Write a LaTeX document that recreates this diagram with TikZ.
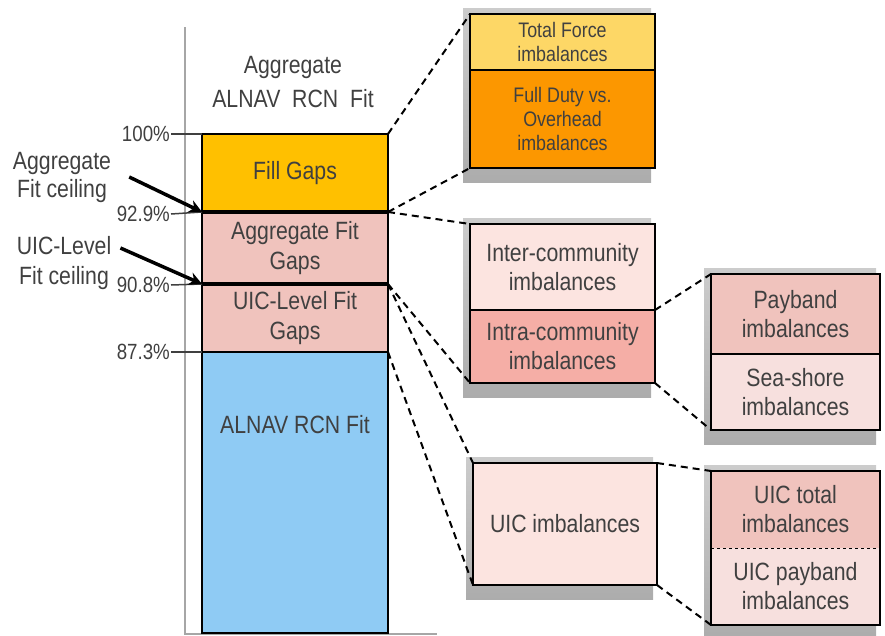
\documentclass[tikz,border=0pt]{standalone}
\usepackage{fontspec}
\setmainfont[FakeStretch=0.85]{Liberation Sans}
\usetikzlibrary{arrows.meta, positioning, backgrounds}

\definecolor{txtgray}{HTML}{404040}
\definecolor{gapgold}{HTML}{FFC000}
\definecolor{gappink}{HTML}{F0C3BD}
\definecolor{fitblue}{HTML}{8FCBF4}
\definecolor{tfyellow}{HTML}{FDD766}
\definecolor{fdorange}{HTML}{FC9700}
\definecolor{lightpink}{HTML}{FCE4E0}
\definecolor{intrapink}{HTML}{F5AEA6}
\definecolor{paleshore}{HTML}{F7E0DE}

\tikzstyle{barseg} = [rectangle, draw=black, line width=2.5pt, minimum width=186pt, outer sep=0pt, inner sep=0pt, anchor=north west, align=center, text=txtgray, font=\fontsize{25}{30}\selectfont]
\tikzstyle{imbox} = [rectangle, draw=black, line width=2.5pt, outer sep=0pt, inner sep=0pt, align=center, text=txtgray, font=\fontsize{25}{29}\selectfont]
\tikzstyle{smallbox} = [imbox, font=\fontsize{21}{24}\selectfont]
\tikzstyle{ticklabel} = [anchor=east, inner sep=1pt, text=txtgray, font=\fontsize{22}{24}\selectfont]
\tikzstyle{sidelabel} = [align=center, inner sep=2pt, text=txtgray, font=\fontsize{25}{28}\selectfont]
\tikzstyle{tick} = [line width=1.5pt, draw=black!75]
\tikzstyle{axisline} = [line width=1.5pt, draw=gray!70]
\tikzstyle{link} = [line width=2pt, dash pattern=on 7pt off 5pt]
\tikzstyle{arrow} = [line width=3.5pt, -{Stealth[length=13pt, width=13pt]}]
\tikzstyle{boxshadow} = [top color=gray!40, bottom color=gray!65]

\begin{document}
\begin{tikzpicture}[x=1pt, y=-1pt]
\useasboundingbox (0,0) rectangle (885,635);

% Axis and title
\draw [axisline] (185,27) -- (185,634) -- (437,634);
\node (title) [sidelabel, font=\fontsize{25}{34}\selectfont] at (293,82) {Aggregate\\ALNAV~~RCN~~Fit};

% Stacked bar
\node (FG) [barseg, minimum height=78pt, fill=gapgold] at (202,134) {Fill Gaps};
\node (AG) [barseg, minimum height=72pt, fill=gappink] at (202,212) {Aggregate Fit\\Gaps};
\node (UG) [barseg, minimum height=68pt, fill=gappink] at (202,284) {UIC-Level Fit\\Gaps};
\node (RF) [barseg, minimum height=281pt, fill=fitblue] at (202,352) {};
\node (RFt) [sidelabel] at (295,425) {ALNAV RCN Fit};
\draw [line width=4.5pt] (FG.south west) -- (FG.south east);
\draw [line width=4.5pt] (AG.south west) -- (AG.south east);

% Ticks
\node (t100) [ticklabel] at (171,134) {100\%};
\node (t929) [ticklabel] at (171,214) {92.9\%};
\node (t908) [ticklabel] at (171,285) {90.8\%};
\node (t873) [ticklabel] at (171,352) {87.3\%};
\draw [tick] (t100.east) -- (FG.north west);
\draw [tick] (t929.east) -- (AG.north west);
\draw [tick] (t908.east) -- (UG.north west);
\draw [tick] (t873.east) -- (RF.north west);

% Ceiling labels
\node (AC) [sidelabel] at (62,177) {Aggregate\\Fit ceiling};
\node (UL) [sidelabel, font=\fontsize{25}{30}\selectfont] at (64,263) {UIC-Level\\Fit ceiling};
\draw [arrow] ([xshift=16pt]AC.east) -- (FG.south west);
\draw [arrow] ([xshift=7pt, yshift=15pt]UL.east) -- (AG.south west);

% Imbalance boxes
\node (TF) [smallbox, anchor=north west, minimum width=185pt, minimum height=56pt, fill=tfyellow] at (470,14) {Total Force\\imbalances};
\node (FD) [smallbox, below=0pt of TF, minimum width=185pt, minimum height=98pt, fill=fdorange] {Full Duty vs.\\Overhead\\imbalances};

\node (IC) [imbox, anchor=north west, minimum width=185pt, minimum height=86pt, fill=lightpink] at (470,224) {Inter-community\\imbalances};
\node (RC) [imbox, below=0pt of IC, minimum width=185pt, minimum height=73pt, fill=intrapink] {Intra-community\\imbalances};

\node (PB) [imbox, anchor=north west, minimum width=169pt, minimum height=80pt, fill=gappink] at (711,274) {Payband\\imbalances};
\node (SS) [imbox, below=0pt of PB, minimum width=169pt, minimum height=76pt, fill=paleshore] {Sea-shore\\imbalances};

\node (UI) [imbox, anchor=north west, minimum width=184pt, minimum height=122pt, fill=lightpink] at (473,463) {UIC imbalances};

\node (UT) [imbox, draw=none, anchor=north west, minimum width=169pt, minimum height=77pt, fill=gappink] at (711,471) {UIC total\\imbalances};
\node (UP) [imbox, draw=none, below=0pt of UT, minimum width=169pt, minimum height=77pt, fill=paleshore] {UIC payband\\imbalances};
\draw [line width=2.5pt] (UT.north west) rectangle (UP.south east);
\draw [dashed, line width=1pt] (UT.south west) -- (UT.south east);

% Shadows
\begin{pgfonlayer}{background}
\shade [boxshadow] ([xshift=-7pt, yshift=6pt]TF.north west) rectangle ([xshift=-4pt, yshift=-14pt]FD.south east);
\shade [boxshadow] ([xshift=-7pt, yshift=6pt]IC.north west) rectangle ([xshift=-4pt, yshift=-14pt]RC.south east);
\shade [boxshadow] ([xshift=-7pt, yshift=6pt]PB.north west) rectangle ([xshift=-4pt, yshift=-14pt]SS.south east);
\shade [boxshadow] ([xshift=-7pt, yshift=6pt]UI.north west) rectangle ([xshift=-4pt, yshift=-14pt]UI.south east);
\shade [boxshadow] ([xshift=-7pt, yshift=6pt]UT.north west) rectangle ([xshift=-4pt, yshift=-14pt]UP.south east);
\end{pgfonlayer}

% Connecting lines
\draw [link] (FG.north east) -- (TF.north west);
\draw [link] (FG.south east) -- (FD.south west);
\draw [link] (FG.south east) -- (IC.north west);
\draw [link] (AG.south east) -- (RC.south west);
\draw [link] (AG.south east) -- (UI.north west);
\draw [link] (UG.south east) -- (UI.south west);
\draw [link] (RC.north east) -- (PB.north west);
\draw [link] (RC.south east) -- (SS.south west);
\draw [link] (UI.north east) -- (UT.north west);
\draw [link] (UI.south east) -- (UP.south west);

\end{tikzpicture}
\end{document}
